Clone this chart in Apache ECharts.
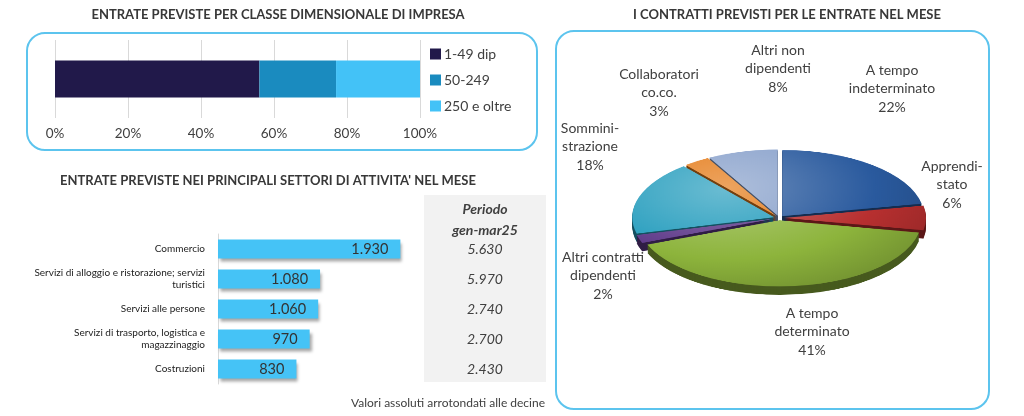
<!DOCTYPE html>
<html>
<head>
<meta charset="utf-8">
<script src="https://cdn.jsdelivr.net/npm/echarts@6/dist/echarts.min.js"></script>
<style>
  html, body { margin: 0; padding: 0; background: #fff; }
  #main { position: absolute; left: 0; top: 0; width: 1024px; height: 416px; }
  #pie { position: absolute; left: 619px; top: 148px; width: 320px; height: 330px;
         transform: scaleY(0.466); transform-origin: 0 0; }
</style>
</head>
<body>
<div id="main"></div>
<div id="pie"></div>
<script>
// entrate per classe dimensionale (%)
const sizeClasses = ["1-49 dip", "50-249", "250 e oltre"]
const sizeShares = [56, 21, 23]
const sizeColors = ["#21194a", "#1a8bbf", "#43c2f7"]

// settori
const sectors = [
  "Commercio",
  "Servizi di alloggio e ristorazione; servizi\nturistici",
  "Servizi alle persone",
  "Servizi di trasporto, logistica e\nmagazzinaggio",
  "Costruzioni"
]
const sectorMonth = [1930, 1080, 1060, 970, 830]
const sectorPeriod = [5630, 5970, 2740, 2700, 2430]

// contratti
const contractNames = [
  "A tempo indeterminato", "Apprendistato", "A tempo determinato",
  "Altri contratti dipendenti", "Somministrazione", "Collaboratori co.co.",
  "Altri non dipendenti"
]
const contractLabels = [
  "A tempo\nindeterminato", "Apprendi-\nstato", "A tempo\ndeterminato",
  "Altri contratti\ndipendenti", "Sommini-\nstrazione", "Collaboratori\nco.co.",
  "Altri non\ndipendenti"
]
const contractShares = [22, 6, 41, 2, 18, 3, 8]
const contractColors = ["#2a5a9e", "#b83030", "#8db43c", "#5f3a8a", "#2a9fbf", "#e57d1c", "#8aa2cc"]

const fmt = n => String(n).replace(/\B(?=(\d{3})+(?!\d))/g, ".")
const FONT = "Lato"
const TXT = "#404040"

// label spots around the pie (layout only)
const labelSpots = [[892, 70], [952, 166], [812, 313], [603, 257], [590, 128], [659, 74], [778, 50]]

const shadeOf = (hex, k) => {
  const n = parseInt(hex.slice(1), 16)
  const c = [(n >> 16) & 255, (n >> 8) & 255, n & 255].map(v =>
    k <= 1 ? Math.round(v * k) : Math.round(v + (255 - v) * (k - 1)))
  return "rgb(" + c.join(",") + ")"
}

const main = echarts.init(document.getElementById("main"))

const graphics = [
  { type: "rect", z: -10, shape: { x: 27, y: 33, width: 510, height: 117, r: 18 },
    style: { fill: "none", stroke: "#5cc4ee", lineWidth: 2 } },
  { type: "rect", z: -10, shape: { x: 556, y: 31, width: 433, height: 378, r: 18 },
    style: { fill: "none", stroke: "#5cc4ee", lineWidth: 2 } },
  { type: "rect", z: -10, shape: { x: 424, y: 195, width: 122, height: 187 },
    style: { fill: "#f2f2f2" } },
  { type: "text", x: 278, y: 8, style: { text: "ENTRATE PREVISTE PER CLASSE DIMENSIONALE DI IMPRESA",
    font: "bold 13px " + FONT, fill: "#383838", textAlign: "center" } },
  { type: "text", x: 268, y: 174, style: { text: "ENTRATE PREVISTE NEI PRINCIPALI SETTORI DI ATTIVITA' NEL MESE",
    font: "bold 13px " + FONT, fill: "#383838", textAlign: "center" } },
  { type: "text", x: 787, y: 8, style: { text: "I CONTRATTI PREVISTI PER LE ENTRATE NEL MESE",
    font: "bold 13px " + FONT, fill: "#383838", textAlign: "center" } },
  { type: "text", x: 485, y: 199, style: { text: "Periodo\ngen-mar25", lineHeight: 21,
    font: "italic bold 14px " + FONT, fill: TXT, textAlign: "center" } },
  { type: "text", x: 545, y: 397, style: { text: "Valori assoluti arrotondati alle decine",
    font: "12px " + FONT, fill: TXT, textAlign: "right" } }
]
contractLabels.forEach((lab, i) => {
  graphics.push({ type: "text", x: labelSpots[i][0], y: labelSpots[i][1] - 9,
    style: { text: lab + "\n" + contractShares[i] + "%", lineHeight: 18.5,
      font: "14px " + FONT, fill: TXT, textAlign: "center" } })
})

main.setOption({
  animation: false,
  textStyle: { fontFamily: FONT },
  graphic: graphics,
  legend: {
    orient: "vertical", left: 425, top: 42, itemGap: 12,
    itemWidth: 11, itemHeight: 11, icon: "rect",
    textStyle: { fontSize: 14, color: TXT, padding: [0, 0, 0, -2] },
    data: sizeClasses
  },
  grid: [
    { left: 55, top: 40, width: 365, height: 78 },
    { left: 218, top: 234, width: 189, height: 150 }
  ],
  xAxis: [
    { gridIndex: 0, type: "value", min: 0, max: 100, interval: 20,
      axisLine: { show: false }, axisTick: { show: false },
      splitLine: { lineStyle: { color: "#d9d9d9" } },
      axisLabel: { formatter: "{value}%", fontSize: 13.5, color: TXT, margin: 9 } },
    { gridIndex: 1, type: "value", min: 0, max: 2000, show: false }
  ],
  yAxis: [
    { gridIndex: 0, type: "category", data: ["Imprese"], show: false },
    { gridIndex: 1, type: "category", data: sectors, inverse: true,
      axisLine: { lineStyle: { color: "#d9d9d9" } }, axisTick: { show: false },
      axisLabel: { fontSize: 10, color: "#222", lineHeight: 12.5, margin: 13 } },
    { gridIndex: 1, type: "category", data: sectorPeriod.map(fmt), inverse: true, position: "right",
      axisLine: { show: false }, axisTick: { show: false },
      axisLabel: { fontSize: 14, fontStyle: "italic", color: TXT, align: "center", margin: 78 } }
  ],
  series: sizeClasses.map((name, i) => ({
    name, type: "bar", stack: "size", xAxisIndex: 0, yAxisIndex: 0,
    barWidth: 37, itemStyle: { color: sizeColors[i] },
    data: [sizeShares[i]]
  })).concat([{
    type: "bar", xAxisIndex: 1, yAxisIndex: 1, barWidth: 19,
    itemStyle: { color: "#45c3f6", shadowColor: "rgba(0,0,0,0.35)", shadowBlur: 3,
      shadowOffsetX: 2, shadowOffsetY: 3 },
    label: { show: true, position: "insideRight", distance: 12, fontSize: 14.5, color: "#333",
      formatter: p => fmt(p.value) },
    data: sectorMonth
  }])
})

// pie, squashed vertically by css to get the tilted look
const pie = echarts.init(document.getElementById("pie"))
const topColor = c => ({
  type: "radial", x: 110, y: 90, r: 260, global: true,
  colorStops: [
    { offset: 0, color: shadeOf(c, 1.3) },
    { offset: 0.55, color: c },
    { offset: 1, color: shadeOf(c, 0.75) }
  ]
})
const pieData = (shade) => contractShares.map((v, i) => ({
  name: contractNames[i], value: v, selected: true,
  itemStyle: { color: shade === 1 ? topColor(contractColors[i]) : shadeOf(contractColors[i], shade) }
}))
const pieSeries = []
const depth = 9
for (let d = depth; d >= 1; d--) {
  pieSeries.push({
    type: "pie", center: [160, 150 + d * 2], radius: 142, startAngle: 90,
    selectedMode: "multiple", selectedOffset: 5, label: { show: false },
    emphasis: { disabled: true }, silent: true,
    data: pieData(0.5)
  })
}
pieSeries.push({
  type: "pie", center: [160, 150], radius: 142, startAngle: 90,
  selectedMode: "multiple", selectedOffset: 5, label: { show: false },
  emphasis: { disabled: true }, silent: true,
  data: pieData(1)
})
pie.setOption({ animation: false, series: pieSeries })
</script>
</body>
</html>
